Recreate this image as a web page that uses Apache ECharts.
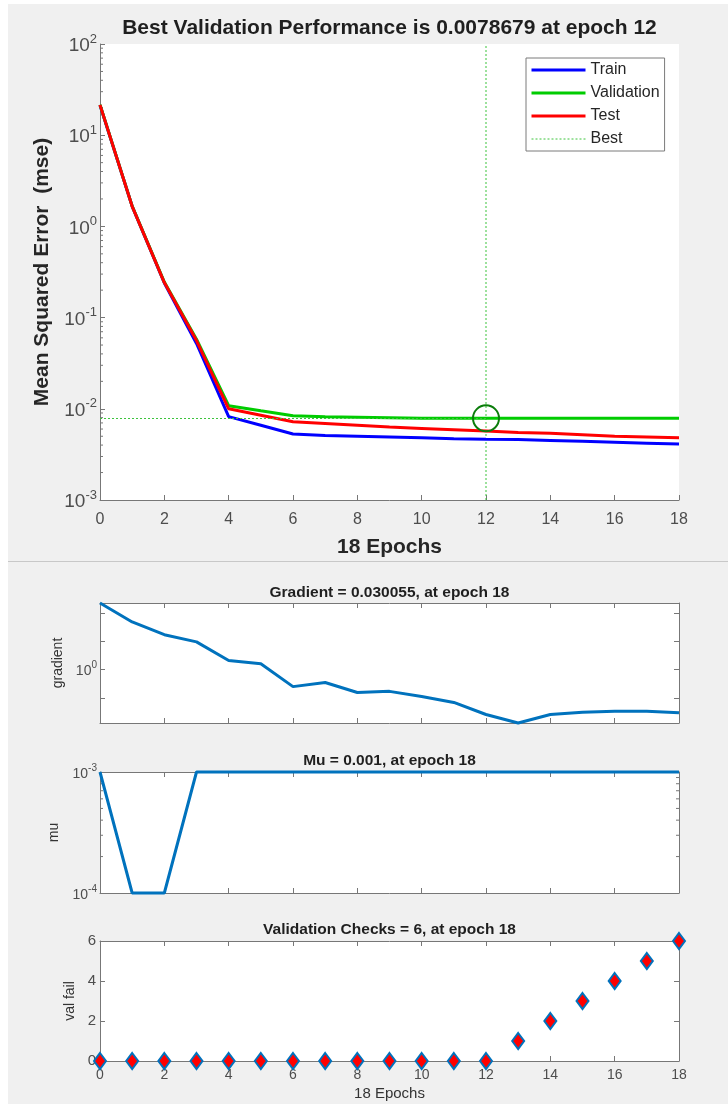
<!DOCTYPE html>
<html>
<head>
<meta charset="utf-8">
<style>
  html, body { margin: 0; padding: 0; background: #fff; }
  #chart { width: 728px; height: 1104px; }
</style>
<script src="https://cdn.jsdelivr.net/npm/echarts@6/dist/echarts.min.js"></script>
</head>
<body>
<div id="chart"></div>
<script>
// ---- data ----
const epochs = [0, 1, 2, 3, 4, 5, 6, 7, 8, 9, 10, 11, 12, 13, 14, 15, 16, 17, 18];
const trainMse = [21.3, 1.66, 0.24, 0.052, 0.0082, 0.0066, 0.0053, 0.0051, 0.0050, 0.0049, 0.0048, 0.0047, 0.00464, 0.0046, 0.0045, 0.0044, 0.0043, 0.0042, 0.0041];
const validationMse = [21.6, 1.67, 0.245, 0.058, 0.0108, 0.0095, 0.0084, 0.0082, 0.0081, 0.0080, 0.0079, 0.00788, 0.0078679, 0.00788, 0.0079, 0.0079, 0.0079, 0.0079, 0.0079];
const testMse = [21.5, 1.66, 0.242, 0.056, 0.0100, 0.0085, 0.0072, 0.0069, 0.0066, 0.0063, 0.0061, 0.0059, 0.0057, 0.0055, 0.0054, 0.0052, 0.0050, 0.0049, 0.0048];
const bestEpoch = 12;
const bestValue = 0.0078679;

const gradient = [224, 48, 17, 9.5, 2.1, 1.6, 0.25, 0.35, 0.155, 0.17, 0.112, 0.069, 0.026, 0.013, 0.026, 0.031, 0.034, 0.034, 0.030055];
const mu = [0.001, 0.0001, 0.0001, 0.001, 0.001, 0.001, 0.001, 0.001, 0.001, 0.001, 0.001, 0.001, 0.001, 0.001, 0.001, 0.001, 0.001, 0.001, 0.001];
const valFail = [0, 0, 0, 0, 0, 0, 0, 0, 0, 0, 0, 0, 0, 1, 2, 3, 4, 5, 6];

// axis ranges and tick values
const mseRange = [0.001, 100];
const muRange = [0.0001, 0.001];
const valFailRange = [0, 6];
const mseMinorTicks = [
  0.002, 0.003, 0.004, 0.005, 0.006, 0.007, 0.008, 0.009,
  0.02, 0.03, 0.04, 0.05, 0.06, 0.07, 0.08, 0.09,
  0.2, 0.3, 0.4, 0.5, 0.6, 0.7, 0.8, 0.9,
  2, 3, 4, 5, 6, 7, 8, 9,
  20, 30, 40, 50, 60, 70, 80, 90
];
const muMinorTicks = [0.0002, 0.0003, 0.0004, 0.0005, 0.0006, 0.0007, 0.0008, 0.0009];

const FONT = '"Liberation Sans", Arial, Helvetica, sans-serif';
const AXIS_GRAY = '#777777';
const LABEL_GRAY = '#4d4d4d';
const MATLAB_BLUE = '#0072bd';
const BEST_GREEN = '#3cc43c';

const pairs = (ys) => epochs.map((e, i) => [e, ys[i]]);

// "10^n" labels with a raised exponent
function powRich(base, sup) {
  return {
    b: { fontSize: base, color: LABEL_GRAY, fontFamily: FONT, lineHeight: base + 4, verticalAlign: 'bottom' },
    s: { fontSize: sup, color: LABEL_GRAY, fontFamily: FONT, lineHeight: sup, verticalAlign: 'top' }
  };
}
function powLabel(v) {
  const e = Math.round(Math.log10(v));
  if (Math.abs(Math.log10(v) - e) > 1e-6) return '';
  return '{b|10}{s|' + e + '}';
}

const line = { show: true, onZero: false, lineStyle: { color: AXIS_GRAY, width: 1 } };
const tick = { show: true, inside: true, length: 5, lineStyle: { color: AXIS_GRAY } };

function epochAxis(gridIndex, position, labels, name) {
  return {
    gridIndex, position, type: 'value', min: 0, max: 18, interval: 2,
    axisLine: line, axisTick: tick, splitLine: { show: false },
    axisLabel: { show: labels, fontSize: 14, color: LABEL_GRAY, fontFamily: FONT, margin: 7 },
    name: name || '', nameLocation: 'middle', nameGap: 25,
    nameTextStyle: { fontSize: 15, color: '#333', fontFamily: FONT }
  };
}

function minorTickSeries(xi, yi, values, both) {
  return {
    type: 'custom', xAxisIndex: xi, yAxisIndex: yi, silent: true, z: 3,
    data: values.map(v => [0, v]),
    renderItem: (params, api) => {
      const l = api.coord([0, api.value(1)]);
      const r = api.coord([18, api.value(1)]);
      const st = { stroke: AXIS_GRAY, lineWidth: 1 };
      const kids = [{ type: 'line', shape: { x1: l[0], y1: l[1], x2: l[0] + 3, y2: l[1] }, style: st }];
      if (both) kids.push({ type: 'line', shape: { x1: r[0], y1: r[1], x2: r[0] - 3, y2: r[1] }, style: st });
      return { type: 'group', children: kids };
    }
  };
}

function titleText(text, y, size) {
  return {
    type: 'text', x: 389.5, y, z: 10,
    style: { text, font: 'bold ' + size + 'px ' + FONT, fill: '#1f1f1f', textAlign: 'center', align: 'center', textVerticalAlign: 'middle', verticalAlign: 'middle' }
  };
}

const gradMin = Math.min(...gradient);
const gradMax = Math.max(...gradient);

const chart = echarts.init(document.getElementById('chart'), null, { renderer: 'canvas' });

chart.setOption({
  animation: false,
  backgroundColor: '#ffffff',
  textStyle: { fontFamily: FONT },
  graphic: [
    { type: 'rect', z: -100, shape: { x: 8, y: 4, width: 720, height: 557 }, style: { fill: '#f0f0f0' } },
    { type: 'rect', z: -100, shape: { x: 8, y: 562, width: 720, height: 542 }, style: { fill: '#f0f0f0' } },
    { type: 'line', z: -99, shape: { x1: 8, y1: 561.5, x2: 728, y2: 561.5 }, style: { stroke: '#c8c8c8', lineWidth: 1 } },
    titleText('Best Validation Performance is 0.0078679 at epoch 12', 28, 21),
    titleText('Gradient = 0.030055, at epoch 18', 593, 15.5),
    titleText('Mu = 0.001, at epoch 18', 761, 15.5),
    titleText('Validation Checks = 6, at epoch 18', 930, 15.5)
  ],
  legend: {
    data: [
      { name: 'Train', lineStyle: { width: 3 } },
      { name: 'Validation', lineStyle: { width: 3 } },
      { name: 'Test', lineStyle: { width: 3 } },
      { name: 'Best', lineStyle: { width: 1 } }
    ],
    orient: 'vertical', left: 526, top: 58,
    itemWidth: 54, itemHeight: 14, itemGap: 7,
    padding: [4, 5, 4, 4],
    backgroundColor: '#ffffff', borderColor: '#7a7a7a', borderWidth: 1, borderRadius: 0,
    selectedMode: false,
    itemStyle: { opacity: 0 },
    textStyle: { fontSize: 16, color: '#262626', fontFamily: FONT }
  },
  grid: [
    { left: 100, top: 44, width: 579, height: 456, show: true, backgroundColor: '#fff', borderWidth: 0, outerBoundsMode: 'none' },
    { left: 100, top: 603, width: 579, height: 120, show: true, backgroundColor: '#fff', borderWidth: 0, outerBoundsMode: 'none' },
    { left: 100, top: 772, width: 579, height: 121, show: true, backgroundColor: '#fff', borderWidth: 0, outerBoundsMode: 'none' },
    { left: 100, top: 941, width: 579, height: 120, show: true, backgroundColor: '#fff', borderWidth: 0, outerBoundsMode: 'none' }
  ],
  xAxis: [
    {
      gridIndex: 0, type: 'value', min: 0, max: 18, interval: 2,
      axisLine: line, axisTick: tick, splitLine: { show: false },
      axisLabel: { fontSize: 16, color: LABEL_GRAY, fontFamily: FONT, margin: 12 },
      name: '18 Epochs', nameLocation: 'middle', nameGap: 37,
      nameTextStyle: { fontSize: 21, fontWeight: 'bold', color: '#262626', fontFamily: FONT }
    },
    epochAxis(1, 'bottom', false),
    epochAxis(1, 'top', false),
    epochAxis(2, 'bottom', false),
    epochAxis(2, 'top', false),
    epochAxis(3, 'bottom', true, '18 Epochs'),
    epochAxis(3, 'top', false)
  ],
  yAxis: [
    {
      gridIndex: 0, type: 'log', logBase: 10, min: mseRange[0], max: mseRange[1],
      axisLine: line, axisTick: tick, splitLine: { show: false },
      axisLabel: { formatter: powLabel, rich: powRich(19, 13), margin: 3 },
      name: 'Mean Squared Error  (mse)', nameLocation: 'middle', nameGap: 47,
      nameTextStyle: { fontSize: 21, fontWeight: 'bold', color: '#262626', fontFamily: FONT }
    },
    {
      gridIndex: 1, type: 'log', logBase: 10, min: gradMin, max: gradMax, position: 'left',
      axisLine: line, axisTick: tick, splitLine: { show: false },
      axisLabel: { formatter: v => (Math.abs(Math.log10(v)) < 1e-6 ? powLabel(v) : ''), rich: powRich(14, 10), margin: 3 },
      name: 'gradient', nameLocation: 'middle', nameGap: 30,
      nameTextStyle: { fontSize: 14, color: '#333', fontFamily: FONT }
    },
    {
      gridIndex: 1, type: 'log', logBase: 10, min: gradMin, max: gradMax, position: 'right',
      axisLine: line, axisTick: tick, splitLine: { show: false }, axisLabel: { show: false }
    },
    {
      gridIndex: 2, type: 'log', logBase: 10, min: muRange[0], max: muRange[1], position: 'left',
      axisLine: line, axisTick: tick, splitLine: { show: false },
      axisLabel: { formatter: powLabel, rich: powRich(14, 10), margin: 3 },
      name: 'mu', nameLocation: 'middle', nameGap: 30,
      nameTextStyle: { fontSize: 14, color: '#333', fontFamily: FONT }
    },
    {
      gridIndex: 2, type: 'log', logBase: 10, min: muRange[0], max: muRange[1], position: 'right',
      axisLine: line, axisTick: tick, splitLine: { show: false }, axisLabel: { show: false }
    },
    {
      gridIndex: 3, type: 'value', min: valFailRange[0], max: valFailRange[1], interval: 2, position: 'left',
      axisLine: line, axisTick: tick, splitLine: { show: false },
      axisLabel: { fontSize: 15, color: LABEL_GRAY, fontFamily: FONT, margin: 4 },
      name: 'val fail', nameLocation: 'middle', nameGap: 14,
      nameTextStyle: { fontSize: 14, color: '#333', fontFamily: FONT }
    },
    {
      gridIndex: 3, type: 'value', min: valFailRange[0], max: valFailRange[1], interval: 2, position: 'right',
      axisLine: line, axisTick: tick, splitLine: { show: false }, axisLabel: { show: false }
    }
  ],
  series: [
    {
      name: 'Best', type: 'line', xAxisIndex: 0, yAxisIndex: 0, symbol: 'none', silent: true,
      data: [[bestEpoch, mseRange[0]], [bestEpoch, mseRange[1]]],
      color: BEST_GREEN,
      lineStyle: { color: BEST_GREEN, width: 1, type: [2, 2] },
      markLine: {
        silent: true, symbol: 'none', label: { show: false },
        lineStyle: { color: BEST_GREEN, width: 1, type: [2, 2] },
        data: [[{ coord: [epochs[0], bestValue] }, { coord: [bestEpoch, bestValue] }]]
      }
    },
    {
      name: 'Train', type: 'line', xAxisIndex: 0, yAxisIndex: 0, symbol: 'none',
      data: pairs(trainMse), color: '#0000ff', lineStyle: { color: '#0000ff', width: 3 }
    },
    {
      name: 'Validation', type: 'line', xAxisIndex: 0, yAxisIndex: 0, symbol: 'none',
      data: pairs(validationMse), color: '#00cc00', lineStyle: { color: '#00cc00', width: 3 },
      markPoint: {
        silent: true, symbol: 'circle', symbolSize: 26, label: { show: false },
        itemStyle: { color: 'rgba(0,0,0,0)', borderColor: '#0b7d0b', borderWidth: 2 },
        data: [{ coord: [bestEpoch, bestValue] }]
      }
    },
    {
      name: 'Test', type: 'line', xAxisIndex: 0, yAxisIndex: 0, symbol: 'none',
      data: pairs(testMse), color: '#ff0000', lineStyle: { color: '#ff0000', width: 3 }
    },
    minorTickSeries(0, 0, mseMinorTicks, false),
    {
      name: 'gradient', type: 'line', xAxisIndex: 1, yAxisIndex: 1, symbol: 'none', clip: false,
      data: pairs(gradient), lineStyle: { color: MATLAB_BLUE, width: 3 }
    },
    {
      name: 'mu', type: 'line', xAxisIndex: 3, yAxisIndex: 3, symbol: 'none', clip: false,
      data: pairs(mu), lineStyle: { color: MATLAB_BLUE, width: 3 }
    },
    minorTickSeries(3, 3, muMinorTicks, true),
    {
      name: 'val fail', type: 'scatter', xAxisIndex: 5, yAxisIndex: 5, clip: false,
      symbol: 'diamond', symbolSize: [12, 16],
      data: pairs(valFail),
      itemStyle: { color: '#ff0000', borderColor: MATLAB_BLUE, borderWidth: 2, opacity: 1 }
    }
  ]
});

window.addEventListener('resize', () => chart.resize());
</script>
</body>
</html>
